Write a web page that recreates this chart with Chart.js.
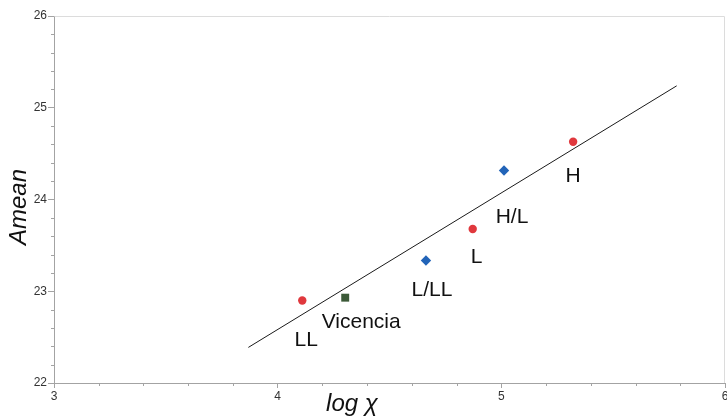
<!DOCTYPE html>
<html>
<head>
<meta charset="utf-8">
<script src="https://cdn.jsdelivr.net/npm/chart.js@4/dist/chart.umd.min.js"></script>
<style>
  html, body { margin: 0; padding: 0; background: #ffffff; }
  canvas { display: block; }
</style>
</head>
<body>
<canvas id="c" width="727" height="419"></canvas>
<script>
// ---- data ----
const groupLabels = ['LL', 'Vicencia', 'L/LL', 'L', 'H/L', 'H'];
const logChi      = [4.110, 4.302, 4.663, 4.872, 5.012, 5.321];
const amean       = [22.90, 22.93, 23.335, 23.678, 24.316, 24.629];
const groupKind   = ['ordinary', 'vicencia', 'transitional', 'ordinary', 'transitional', 'ordinary'];
const fitLineX    = [3.869, 5.784];
const fitLineY    = [22.388, 25.239];
const xAxisRange  = [3, 6];
const yAxisRange  = [22, 26];
const xTitle = 'log χ';
const yTitle = 'Amean';

// ---- styling ----
const FONT = '"Liberation Sans", Arial, Helvetica, sans-serif';
const kindStyle = {
  ordinary:     { color: '#e0383d', pointStyle: 'circle',  radius: 4.2 },
  transitional: { color: '#2264b8', pointStyle: 'rectRot', radius: 5.2 },
  vicencia:     { color: '#3c5a38', pointStyle: 'rect',    radius: 5.6 }
};
// label offsets (pixels, from point centre to text centre x / baseline y)
const labelOffsets = {
  'LL': [4, 46], 'Vicencia': [16, 30.5], 'L/LL': [6, 35.5],
  'L': [4, 33.5], 'H/L': [8, 52], 'H': [0, 40.5]
};

const kinds = ['ordinary', 'transitional', 'vicencia'];
const datasets = kinds.map(k => ({
  type: 'scatter',
  label: k,
  data: logChi.map((x, i) => ({ x, y: amean[i], name: groupLabels[i] }))
              .filter((p, i) => groupKind[i] === k),
  pointStyle: kindStyle[k].pointStyle,
  pointRadius: kindStyle[k].radius,
  pointBackgroundColor: kindStyle[k].color,
  pointBorderWidth: 0,
  pointBorderColor: kindStyle[k].color
}));
datasets.unshift({
  type: 'line',
  label: 'fit',
  data: fitLineX.map((x, i) => ({ x, y: fitLineY[i] })),
  borderColor: '#1a1a1a',
  borderWidth: 1,
  pointRadius: 0,
  fill: false
});

const isMajor = v => Math.abs(v - Math.round(v)) < 1e-6;
const AXIS_COLOR = '#a3a3a3';
const zeroPad = () => ({ left: 0, top: 0, right: 0, bottom: 0 });

const extrasPlugin = {
  id: 'extras',
  afterDraw(chart) {
    const ctx = chart.ctx;
    const a = chart.chartArea;
    const xs = chart.scales.x, ys = chart.scales.y;
    ctx.save();
    // light frame top and right
    ctx.strokeStyle = '#dcdcdc';
    ctx.lineWidth = 1;
    ctx.beginPath();
    ctx.moveTo(Math.round(a.left) + 0.5, Math.round(a.top) + 0.5);
    ctx.lineTo(Math.round(a.right) - 0.5, Math.round(a.top) + 0.5);
    ctx.lineTo(Math.round(a.right) - 0.5, Math.round(a.bottom));
    ctx.stroke();
    // minor ticks
    ctx.strokeStyle = AXIS_COLOR;
    ctx.beginPath();
    xs.ticks.forEach(t => {
      if (isMajor(t.value)) return;
      const px = Math.round(xs.getPixelForValue(t.value)) + 0.5;
      ctx.moveTo(px, a.bottom);
      ctx.lineTo(px, a.bottom + 3);
    });
    ys.ticks.forEach(t => {
      if (isMajor(t.value)) return;
      const py = Math.round(ys.getPixelForValue(t.value)) + 0.5;
      ctx.moveTo(a.left, py);
      ctx.lineTo(a.left - 3, py);
    });
    ctx.stroke();
    // point labels
    ctx.fillStyle = '#111111';
    ctx.font = '21px ' + FONT;
    ctx.textAlign = 'center';
    ctx.textBaseline = 'alphabetic';
    groupLabels.forEach((name, i) => {
      const off = labelOffsets[name] || [0, 30];
      const px = xs.getPixelForValue(logChi[i]);
      const py = ys.getPixelForValue(amean[i]);
      ctx.fillText(name, px + off[0], py + off[1]);
    });
    // axis titles
    ctx.font = 'italic 24px ' + FONT;
    ctx.fillStyle = '#111111';
    ctx.textAlign = 'center';
    ctx.fillText(xTitle, 352, 411);
    ctx.save();
    ctx.translate(25.5, 207);
    ctx.rotate(-Math.PI / 2);
    ctx.fillText(yTitle, 0, 0);
    ctx.restore();
    ctx.restore();
  }
};

new Chart(document.getElementById('c'), {
  type: 'scatter',
  data: { datasets },
  options: {
    responsive: false,
    animation: false,
    layout: { autoPadding: false, padding: { top: 16, right: 2, left: 0, bottom: 0 } },
    plugins: { legend: { display: false }, tooltip: { enabled: false } },
    scales: {
      x: {
        type: 'linear',
        min: xAxisRange[0], max: xAxisRange[1],
        border: { display: true, color: AXIS_COLOR, width: 1 },
        grid: {
          drawOnChartArea: false, drawTicks: true, tickLength: 5,
          tickColor: c => (c.tick && isMajor(c.tick.value)) ? AXIS_COLOR : 'rgba(0,0,0,0)'
        },
        ticks: {
          stepSize: 0.2, autoSkip: false, maxRotation: 0, padding: 1,
          color: '#333333', font: { family: FONT, size: 12 },
          callback: v => isMajor(v) ? String(Math.round(v)) : ''
        },
        afterFit(s) {
          s.height = 36; s.paddingLeft = 0; s.paddingRight = 0;
          s.getPadding = zeroPad;
        }
      },
      y: {
        type: 'linear',
        min: yAxisRange[0], max: yAxisRange[1],
        border: { display: true, color: AXIS_COLOR, width: 1 },
        grid: {
          drawOnChartArea: false, drawTicks: true, tickLength: 6,
          tickColor: c => (c.tick && isMajor(c.tick.value)) ? AXIS_COLOR : 'rgba(0,0,0,0)'
        },
        ticks: {
          stepSize: 0.2, autoSkip: false, padding: 1,
          color: '#333333', font: { family: FONT, size: 12 },
          callback: v => isMajor(v) ? String(Math.round(v)) : ''
        },
        afterFit(s) {
          s.width = 54; s.paddingTop = 0; s.paddingBottom = 0;
          s.getPadding = zeroPad;
        }
      }
    }
  },
  plugins: [extrasPlugin]
});
</script>
</body>
</html>
